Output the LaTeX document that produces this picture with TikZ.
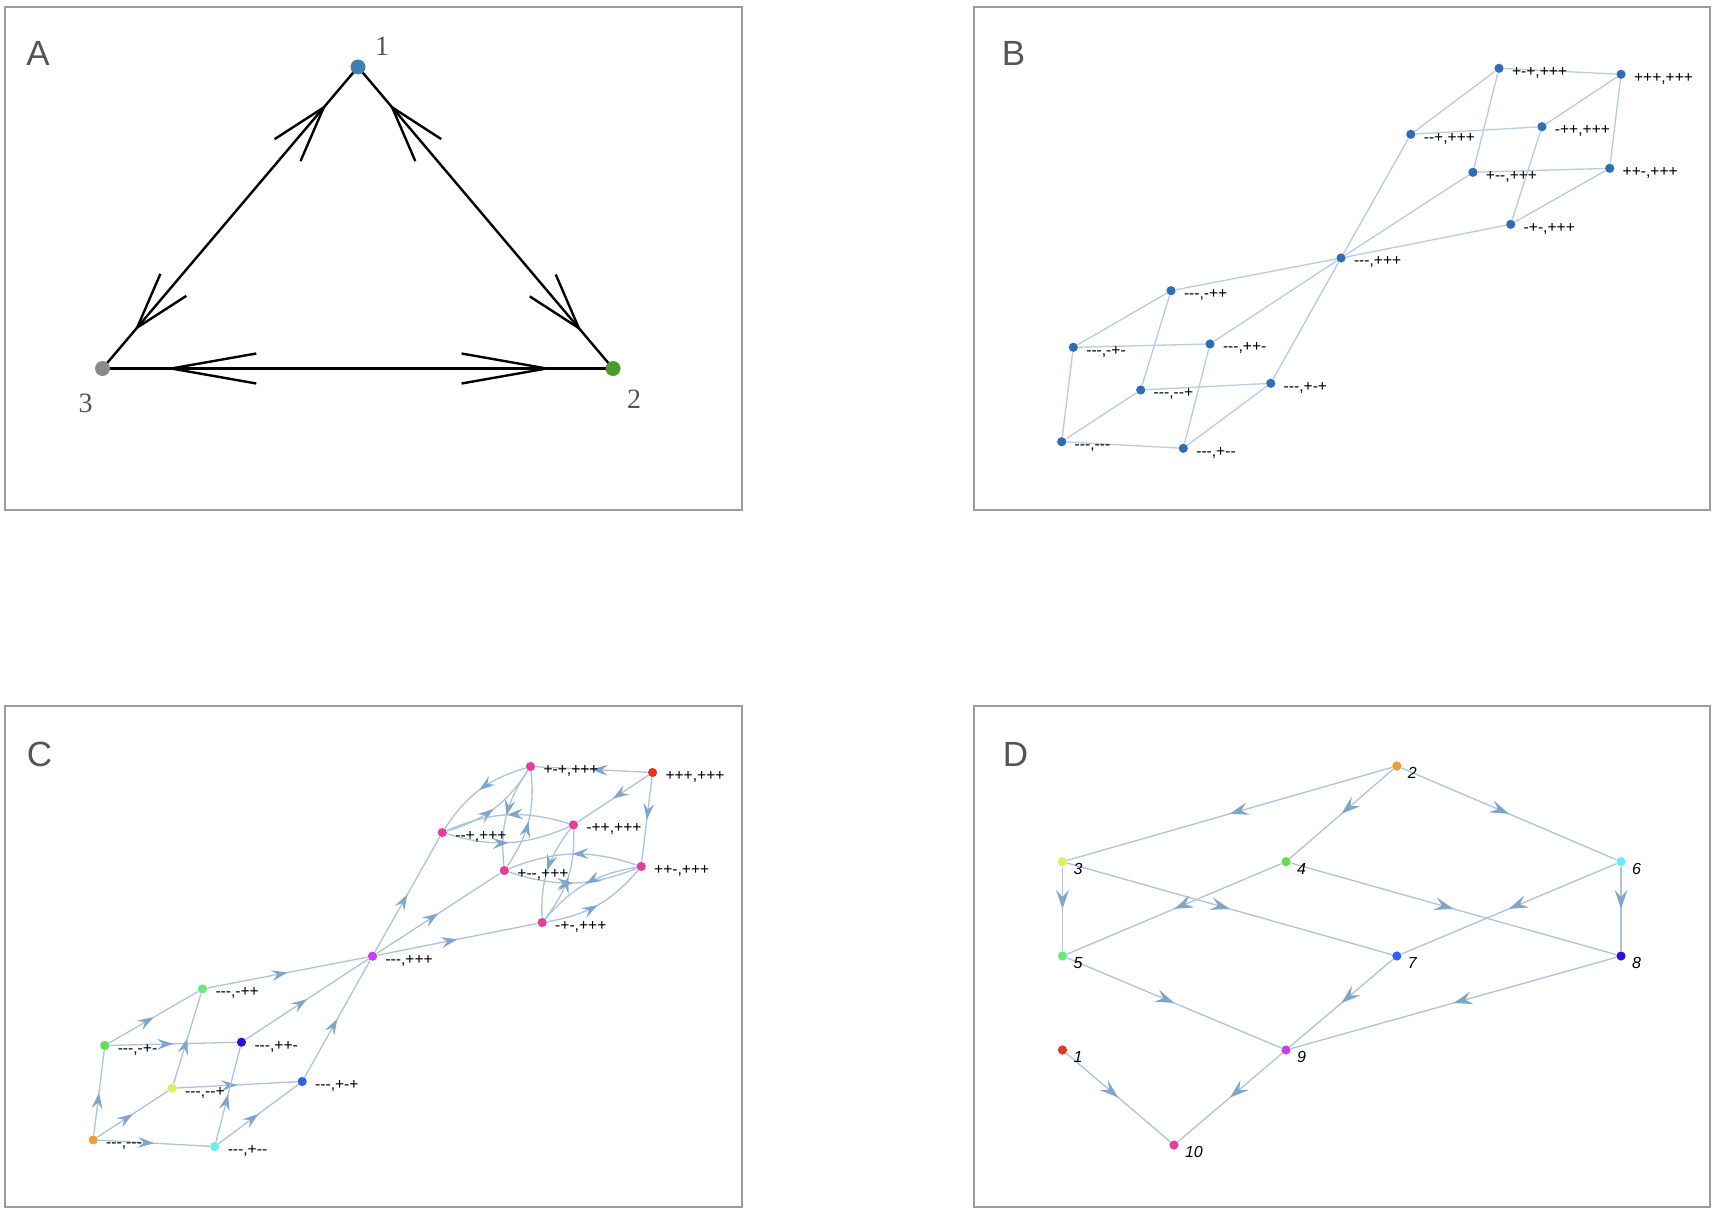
\documentclass[tikz,border=0pt]{standalone}
\usepackage{fontspec}
\setmainfont{Liberation Sans}
\newfontfamily\lblfont{Liberation Sans}[Ligatures=TeXOff]
\newfontfamily\numfont{Liberation Serif}
\usetikzlibrary{arrows.meta,decorations.markings}
\definecolor{framegray}{HTML}{9C9C9C}
\definecolor{lettergray}{HTML}{555555}
\definecolor{anodeA}{HTML}{3F7FB6}
\definecolor{anodeB}{HTML}{4B9B2B}
\definecolor{anodeC}{HTML}{8A8A8A}
\definecolor{bblue}{HTML}{2E6EB6}
\definecolor{bedge}{HTML}{B7CCE1}
\definecolor{cedge}{HTML}{ABC4DC}
\definecolor{carrow}{HTML}{7EA6CC}
\definecolor{corange}{HTML}{F09A3E}
\definecolor{ccyan}{HTML}{66F0F2}
\definecolor{cygreen}{HTML}{D9F25C}
\definecolor{cgreenA}{HTML}{63DD55}
\definecolor{cgreenB}{HTML}{6CE77A}
\definecolor{cblue}{HTML}{2F62E8}
\definecolor{cdblue}{HTML}{2B12D6}
\definecolor{cpurple}{HTML}{C53FF0}
\definecolor{cpink}{HTML}{E33E9C}
\definecolor{cred}{HTML}{E2371F}
\pgfdeclarelayer{bg}
\pgfsetlayers{bg,main}
\begin{document}
\begin{tikzpicture}[x=0.5pt,y=-0.5pt,
  panelframe/.style={draw=framegray,line width=1pt},
  plabel/.style={font=\fontsize{17.5}{20}\selectfont, text=lettergray, inner sep=0pt},
  adot/.style={circle, inner sep=0pt, minimum size=7.5pt, fill=#1},
  anum/.style={font=\numfont\fontsize{14}{16}\selectfont, text=lettergray, inner sep=0pt},
  aedge/.style={line width=1.2pt, draw=black},
  dot/.style={circle, inner sep=0pt, minimum size=4.6pt, fill=#1},
  blbl/.style={font=\lblfont\fontsize{7.8}{9}\selectfont, inner sep=0pt, text height=4.6pt, text depth=1.1pt, label distance=3.8pt, yshift=-2.2pt, text=black},
  dlbl/.style={font=\lblfont\itshape\fontsize{8}{9}\selectfont, inner sep=0pt, label distance=2.8pt, yshift=-3.5pt, text=black},
  bline/.style={draw=bedge, line width=0.65pt},
  cline/.style={draw=cedge, line width=0.65pt, postaction={decorate},
    decoration={markings, mark=at position 0.5 with {\arrow{Stealth[length=8pt,width=5.4pt,inset=3pt,color=carrow]}}}},
  dline/.style={draw=cedge, line width=0.65pt, postaction={decorate},
    decoration={markings, mark=at position 0.5 with {\arrow{Stealth[length=9.5pt,width=6.4pt,inset=3.6pt,color=carrow]}}}}
]
\begin{pgfonlayer}{bg}
\path[fill=white] (0,0) rectangle (1716,1214);
\end{pgfonlayer}
% frames
\draw[panelframe] (5,7) rectangle (742,510);
\draw[panelframe] (974,7) rectangle (1710,510);
\draw[panelframe] (5,706) rectangle (742,1207);
\draw[panelframe] (974,706) rectangle (1710,1207);
% panel letters
\node[plabel] (labA) at (38,53.5) {A};
\node[plabel] (labB) at (1013.5,53.5) {B};
\node[plabel] (labC) at (39.5,754) {C};
\node[plabel] (labD) at (1015.5,754) {D};

% ---------------- Panel A ----------------
\node[adot=anodeA] (a1) at (358,67) {};
\node[adot=anodeB] (a2) at (613,368.5) {};
\node[adot=anodeC] (a3) at (102.5,368.5) {};
\node[anum] (t1) at (382,46.5) {1};
\node[anum] (t2) at (634,399.5) {2};
\node[anum] (t3) at (85.5,403.5) {3};
\begin{pgfonlayer}{bg}
\draw[aedge, postaction={decorate}, decoration={markings,
   mark=at position 26.5pt with {\draw[aedge] (28pt,8.5pt) -- (0pt,0pt) -- (28pt,-8.5pt);},
   mark=at position -26.8pt with {\draw[aedge] (-28pt,8.5pt) -- (0pt,0pt) -- (-28pt,-8.5pt);}}]
  (a1.center) -- (a3.center);
\draw[aedge, postaction={decorate}, decoration={markings,
   mark=at position 26.4pt with {\draw[aedge] (28pt,8.5pt) -- (0pt,0pt) -- (28pt,-8.5pt);},
   mark=at position -26.4pt with {\draw[aedge] (-28pt,8.5pt) -- (0pt,0pt) -- (-28pt,-8.5pt);}}]
  (a1.center) -- (a2.center);
\draw[aedge, postaction={decorate}, decoration={markings,
   mark=at position 34.4pt with {\draw[aedge] (42.5pt,7.5pt) -- (0pt,0pt) -- (42.5pt,-7.5pt);},
   mark=at position -33.2pt with {\draw[aedge] (-42.5pt,7.5pt) -- (0pt,0pt) -- (-42.5pt,-7.5pt);}}]
  (a3.center) -- (a2.center);
\end{pgfonlayer}

% ---------------- Panel B ----------------
\node[dot=bblue, label={[blbl]right:{+-+,+++}}] (bu1) at (1499,68.3) {};
\node[dot=bblue, label={[blbl]right:{+++,+++}}] (bu2) at (1621,74.3) {};
\node[dot=bblue, label={[blbl]right:{--+,+++}}] (bu3) at (1410.8,134.3) {};
\node[dot=bblue, label={[blbl]right:{-++,+++}}] (bu4) at (1541.9,126.7) {};
\node[dot=bblue, label={[blbl]right:{+--,+++}}] (bu5) at (1472.9,172.3) {};
\node[dot=bblue, label={[blbl]right:{++-,+++}}] (bu6) at (1609.7,168.3) {};
\node[dot=bblue, label={[blbl]right:{-+-,+++}}] (bu7) at (1510.7,224.3) {};
\node[dot=bblue, label={[blbl]right:{---,+++}}] (bm) at (1341,258) {};
\node[dot=bblue, label={[blbl]right:{---,-++}}] (bl1) at (1171,290.7) {};
\node[dot=bblue, label={[blbl]right:{---,-+-}}] (bl2) at (1073.3,347.3) {};
\node[dot=bblue, label={[blbl]right:{---,++-}}] (bl3) at (1210,344) {};
\node[dot=bblue, label={[blbl]right:{---,--+}}] (bl4) at (1140.7,390) {};
\node[dot=bblue, label={[blbl]right:{---,+-+}}] (bl5) at (1270.7,383.3) {};
\node[dot=bblue, label={[blbl]right:{---,---}}] (bl6) at (1061.7,441.7) {};
\node[dot=bblue, label={[blbl]right:{---,+--}}] (bl7) at (1183.3,448.3) {};
\begin{pgfonlayer}{bg}
\draw[bline] (bu2) -- (bu1);
\draw[bline] (bu2) -- (bu4);
\draw[bline] (bu2) -- (bu6);
\draw[bline] (bu1) -- (bu3);
\draw[bline] (bu1) -- (bu5);
\draw[bline] (bu4) -- (bu3);
\draw[bline] (bu4) -- (bu7);
\draw[bline] (bu6) -- (bu5);
\draw[bline] (bu6) -- (bu7);
\draw[bline] (bm) -- (bu3);
\draw[bline] (bm) -- (bu5);
\draw[bline] (bm) -- (bu7);
\draw[bline] (bl1) -- (bm);
\draw[bline] (bl3) -- (bm);
\draw[bline] (bl5) -- (bm);
\draw[bline] (bl2) -- (bl1);
\draw[bline] (bl2) -- (bl3);
\draw[bline] (bl4) -- (bl1);
\draw[bline] (bl4) -- (bl5);
\draw[bline] (bl7) -- (bl3);
\draw[bline] (bl7) -- (bl5);
\draw[bline] (bl6) -- (bl2);
\draw[bline] (bl6) -- (bl4);
\draw[bline] (bl6) -- (bl7);
\end{pgfonlayer}

% ---------------- Panel C ----------------
\node[dot=cpink, label={[blbl]right:{+-+,+++}}] (cu1) at (530.5,766.5) {};
\node[dot=cred, label={[blbl]right:{+++,+++}}] (cu2) at (652.5,772.5) {};
\node[dot=cpink, label={[blbl]right:{--+,+++}}] (cu3) at (442.3,832.5) {};
\node[dot=cpink, label={[blbl]right:{-++,+++}}] (cu4) at (573.4,824.9) {};
\node[dot=cpink, label={[blbl]right:{+--,+++}}] (cu5) at (504.4,870.5) {};
\node[dot=cpink, label={[blbl]right:{++-,+++}}] (cu6) at (641.2,866.5) {};
\node[dot=cpink, label={[blbl]right:{-+-,+++}}] (cu7) at (542.2,922.5) {};
\node[dot=cpurple, label={[blbl]right:{---,+++}}] (cm) at (372.5,956.2) {};
\node[dot=cgreenB, label={[blbl]right:{---,-++}}] (cl1) at (202.5,988.9) {};
\node[dot=cgreenA, label={[blbl]right:{---,-+-}}] (cl2) at (104.8,1045.5) {};
\node[dot=cdblue, label={[blbl]right:{---,++-}}] (cl3) at (241.5,1042.2) {};
\node[dot=cygreen, label={[blbl]right:{---,--+}}] (cl4) at (172.2,1088.2) {};
\node[dot=cblue, label={[blbl]right:{---,+-+}}] (cl5) at (302.2,1081.5) {};
\node[dot=corange, label={[blbl]right:{---,---}}] (cl6) at (93.2,1139.9) {};
\node[dot=ccyan, label={[blbl]right:{---,+--}}] (cl7) at (214.8,1146.5) {};
\begin{pgfonlayer}{bg}
\draw[cline] (cu2) -- (cu1);
\draw[cline] (cu2) -- (cu4);
\draw[cline] (cu2) -- (cu6);
\draw[cline] (cu1) to[bend right=20] (cu3);
\draw[cline] (cu3) to[bend right=20] (cu1);
\draw[cline] (cu1) to[bend right=20] (cu5);
\draw[cline] (cu5) to[bend right=20] (cu1);
\draw[cline] (cu4) to[bend right=20] (cu3);
\draw[cline] (cu3) to[bend right=20] (cu4);
\draw[cline] (cu4) to[bend right=20] (cu7);
\draw[cline] (cu7) to[bend right=20] (cu4);
\draw[cline] (cu6) to[bend right=20] (cu5);
\draw[cline] (cu5) to[bend right=20] (cu6);
\draw[cline] (cu6) to[bend right=20] (cu7);
\draw[cline] (cu7) to[bend right=20] (cu6);
\draw[cline] (cm) -- (cu3);
\draw[cline] (cm) -- (cu5);
\draw[cline] (cm) -- (cu7);
\draw[cline] (cl1) -- (cm);
\draw[cline] (cl3) -- (cm);
\draw[cline] (cl5) -- (cm);
\draw[cline] (cl2) -- (cl1);
\draw[cline] (cl2) -- (cl3);
\draw[cline] (cl4) -- (cl1);
\draw[cline] (cl4) -- (cl5);
\draw[cline] (cl7) -- (cl3);
\draw[cline] (cl7) -- (cl5);
\draw[cline] (cl6) -- (cl2);
\draw[cline] (cl6) -- (cl4);
\draw[cline] (cl6) -- (cl7);
\end{pgfonlayer}

% ---------------- Panel D ----------------
\node[dot=corange, label={[dlbl]right:2}] (d2) at (1396.8,766) {};
\node[dot=cygreen, label={[dlbl]right:3}] (d3) at (1062.5,861.7) {};
\node[dot=cgreenA, label={[dlbl]right:4}] (d4) at (1286,861.7) {};
\node[dot=ccyan, label={[dlbl]right:6}] (d6) at (1621,861.7) {};
\node[dot=cgreenB, label={[dlbl]right:5}] (d5) at (1062.5,956) {};
\node[dot=cblue, label={[dlbl]right:7}] (d7) at (1396.8,956) {};
\node[dot=cdblue, label={[dlbl]right:8}] (d8) at (1621,956) {};
\node[dot=cpurple, label={[dlbl]right:9}] (d9) at (1286,1050) {};
\node[dot=cred, label={[dlbl]right:1}] (d1) at (1062.5,1050) {};
\node[dot=cpink, label={[dlbl]right:10}] (d10) at (1174,1145) {};
\begin{pgfonlayer}{bg}
\draw[dline] (d2) -- (d3);
\draw[dline] (d2) -- (d4);
\draw[dline] (d2) -- (d6);
\draw[dline] (d3) -- (d5);
\draw[dline] (d3) -- (d7);
\draw[dline] (d4) -- (d5);
\draw[dline] (d4) -- (d8);
\draw[dline] (d6) -- (d7);
\draw[dline] (d6) -- (d8);
\draw[dline] (d5) -- (d9);
\draw[dline] (d7) -- (d9);
\draw[dline] (d8) -- (d9);
\draw[dline] (d1) -- (d10);
\draw[dline] (d9) -- (d10);
\end{pgfonlayer}
\end{tikzpicture}
\end{document}
